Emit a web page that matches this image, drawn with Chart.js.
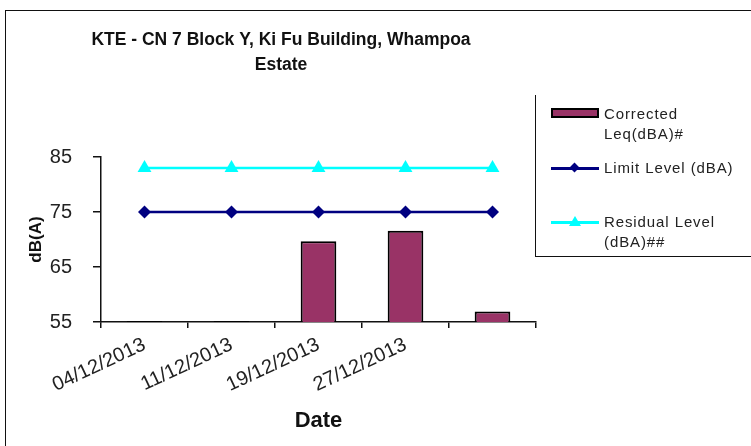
<!DOCTYPE html>
<html>
<head>
<meta charset="utf-8">
<script src="https://cdn.jsdelivr.net/npm/chart.js@4"></script>
<style>
  body { margin: 0; background: #fff; font-family: "Liberation Sans", Arial, sans-serif; }
  #wrap { position: relative; width: 751px; height: 446px; overflow: hidden; }
  #frame { position: absolute; left: 5px; top: 10px; width: 800px; height: 500px; border: 1.5px solid #111; }
  #legend { position: absolute; left: 535px; top: 95px; width: 260px; height: 161px;
            border-left: 1px solid #111; border-bottom: 1px solid #111; }
  .item { position: absolute; left: 15px; display: flex; align-items: flex-start; }
  .sym { width: 48px; height: 20px; position: relative; margin-right: 5px; flex: none; }
  .txt { width: 148px; font-size: 15px; line-height: 20px; color: #222; letter-spacing: 0.9px; }
  canvas { position: absolute; left: 0; top: 0; }
</style>
</head>
<body>
<div id="wrap">
  <div id="frame"></div>
  <canvas id="c" width="751" height="446"></canvas>
  <div id="legend"></div>
</div>
<script>
// categories and values
const dates = ['04/12/2013', '11/12/2013', '19/12/2013', '27/12/2013', ''];
const correctedLeq = [55.2, 55.2, 69.7, 71.6, 56.9];
const limitLevel = [75, 75, 75, 75, 75];
const residualLevel = [83, 83, 83, 83, 83];
const seriesNames = ['Corrected Leq(dBA)#', 'Limit Level (dBA)', 'Residual Level (dBA)##'];
const yTicks = [55, 65, 75, 85];

const ctx = document.getElementById('c').getContext('2d');
const chart = new Chart(ctx, {
    type: 'bar',
    data: {
        labels: dates,
        datasets: [
            {
                type: 'line', label: seriesNames[2], data: residualLevel,
                borderColor: '#00ffff', backgroundColor: '#00ffff', borderWidth: 2.5,
                pointStyle: 'triangle', pointRadius: 8, pointBorderWidth: 0
            },
            {
                type: 'line', label: seriesNames[1], data: limitLevel,
                borderColor: '#000080', backgroundColor: '#000080', borderWidth: 2.5,
                pointStyle: 'rectRot', pointRadius: 6.5, pointBorderWidth: 0
            },
            {
                label: seriesNames[0], data: correctedLeq,
                backgroundColor: '#993366', borderColor: '#000', borderWidth: 2,
                barPercentage: 0.41, categoryPercentage: 1, borderSkipped: false
            }
        ]
    },
    options: {
        responsive: false,
        animation: false,
        layout: { padding: { left: 26, right: 215, top: 28, bottom: 12 } },
        plugins: {
            legend: { display: false },
            tooltip: { enabled: false },
            title: {
                display: true,
                text: ['KTE - CN 7 Block Y, Ki Fu Building, Whampoa', 'Estate'],
                color: '#111',
                font: { family: 'Liberation Sans', size: 17.5, weight: 'bold', lineHeight: 1.43 },
                padding: { top: 0, bottom: 79 }
            }
        },
        scales: {
            x: {
                offset: true,
                afterFit: s => { s.height = 112; },
                grid: { offset: true, drawOnChartArea: false, tickLength: 6, color: '#111', lineWidth: 1.5 },
                border: { color: '#111', width: 1.5 },
                ticks: {
                    color: '#222', minRotation: 25, maxRotation: 25, padding: 5,
                    font: { family: 'Liberation Sans', size: 20 }
                },
                title: {
                    display: true, text: 'Date', color: '#111',
                    font: { family: 'Liberation Sans', size: 22, weight: 'bold' },
                    padding: { top: 0, bottom: 0 }
                }
            },
            y: {
                min: 55, max: 85,
                afterFit: s => { s.width = 75; },
                afterBuildTicks: s => { s.ticks = yTicks.map(v => ({ value: v })); },
                grid: { drawOnChartArea: false, tickLength: 8, color: '#111', lineWidth: 1.5 },
                border: { color: '#111', width: 1.5 },
                ticks: {
                    color: '#222', padding: 21,
                    font: { family: 'Liberation Sans', size: 20 }
                },
                title: {
                    display: true, text: 'dB(A)', color: '#111',
                    font: { family: 'Liberation Sans', size: 17, weight: 'bold' },
                    padding: { top: 0, bottom: 0 }
                }
            }
        }
    }
});

// legend built from the chart datasets
const legend = document.getElementById('legend');
const order = [2, 1, 0];
const tops = [9, 63, 117];
order.forEach((di, i) => {
    const ds = chart.data.datasets[di];
    const item = document.createElement('div');
    item.className = 'item';
    item.style.top = tops[i] + 'px';
    const sym = document.createElement('div');
    sym.className = 'sym';
    if (ds.type === 'line') {
        let marker = '';
        if (ds.pointStyle === 'rectRot') {
            marker = `<div style="position:absolute;left:20px;top:6px;width:7px;height:7px;background:${ds.borderColor};transform:rotate(45deg)"></div>`;
        } else {
            marker = `<div style="position:absolute;left:18px;top:4px;width:0;height:0;border-left:6px solid transparent;border-right:6px solid transparent;border-bottom:10px solid ${ds.borderColor}"></div>`;
        }
        sym.innerHTML = `<div style="position:absolute;left:0;top:9px;width:48px;height:2.5px;background:${ds.borderColor}"></div>` + marker;
    } else {
        sym.innerHTML = `<div style="position:absolute;left:0;top:4px;width:44px;height:6px;background:${ds.backgroundColor};border:2px solid #000"></div>`;
    }
    const txt = document.createElement('div');
    txt.className = 'txt';
    txt.textContent = ds.label;
    item.appendChild(sym);
    item.appendChild(txt);
    legend.appendChild(item);
});
</script>
</body>
</html>
